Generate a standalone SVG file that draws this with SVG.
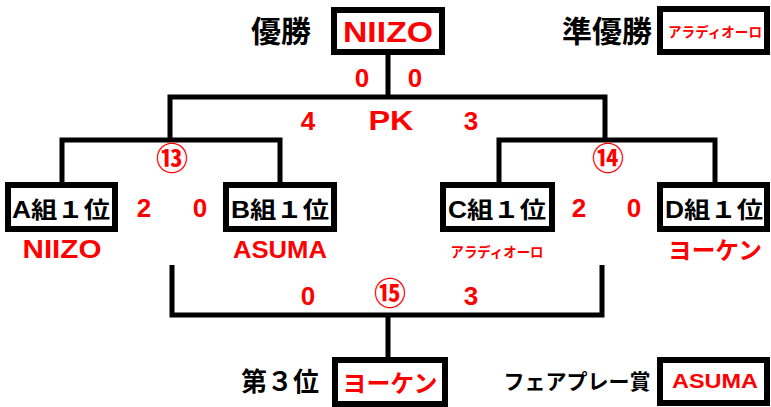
<svg xmlns="http://www.w3.org/2000/svg" width="771" height="407" viewBox="0 0 771 407">
<style>
.box{fill:#fff;stroke:#000;stroke-width:6}
.ln{fill:none;stroke:#000;stroke-width:5;stroke-linejoin:miter;stroke-linecap:butt}
text{font-family:"Liberation Sans","Noto Sans CJK JP",sans-serif;font-weight:bold;text-anchor:middle}
.k{fill:#000}
.r{fill:#f00}
.c{font-size:32px}
</style>
<rect width="771" height="407" fill="#fff"/>
<g id="connectors">
<path class="ln" d="M388,55 V97"/>
<path class="ln" d="M170,140 V97 H605 V140"/>
<path class="ln" d="M62,182 V140 H280 V182"/>
<path class="ln" d="M499,182 V140 H715 V182"/>
<path class="ln" d="M172,265 V315 H602 V265"/>
<path class="ln" d="M388,315 V357"/>
</g>
<g id="winner">
<text class="k" x="281" y="42" font-size="30">優勝</text>
<rect class="box" x="334" y="10" width="108" height="42"/>
<text class="r" x="388" y="42" font-size="30" textLength="90" lengthAdjust="spacingAndGlyphs">NIIZO</text>
</g>
<g id="runnerup">
<text class="k" x="607" y="42" font-size="30">準優勝</text>
<rect class="box" x="660" y="9" width="107" height="43"/>
<text class="r" x="715" y="37" font-size="14" textLength="94" lengthAdjust="spacingAndGlyphs">アラディオーロ</text>
</g>
<g id="final-scores">
<text class="r" x="362" y="87" font-size="26">0</text>
<text class="r" x="415" y="87" font-size="26">0</text>
<text class="r" x="308" y="130" font-size="26">4</text>
<text class="r" x="391" y="130" font-size="27" textLength="45" lengthAdjust="spacingAndGlyphs">PK</text>
<text class="r" x="471" y="130" font-size="26">3</text>
</g>
<g id="match13">
<text class="r c" x="172" y="170">⑬</text>
<text class="r" x="144" y="217" font-size="26">2</text>
<text class="r" x="200" y="217" font-size="26">0</text>
</g>
<g id="match14">
<text class="r c" x="608" y="170">⑭</text>
<text class="r" x="579" y="217" font-size="26">2</text>
<text class="r" x="634" y="217" font-size="26">0</text>
</g>
<g id="groupA">
<rect class="box" x="8" y="185" width="107" height="44"/>
<text class="k" x="61" y="218" font-size="23" textLength="98" lengthAdjust="spacingAndGlyphs">A組１位</text>
<text class="r" x="62" y="258" font-size="25" textLength="79" lengthAdjust="spacingAndGlyphs">NIIZO</text>
</g>
<g id="groupB">
<rect class="box" x="226" y="185" width="108" height="44"/>
<text class="k" x="280" y="218" font-size="23" textLength="98" lengthAdjust="spacingAndGlyphs">B組１位</text>
<text class="r" x="280" y="258" font-size="23" textLength="94" lengthAdjust="spacingAndGlyphs">ASUMA</text>
</g>
<g id="groupC">
<rect class="box" x="443" y="185" width="109" height="44"/>
<text class="k" x="497" y="218" font-size="23" textLength="98" lengthAdjust="spacingAndGlyphs">C組１位</text>
<text class="r" x="497" y="257" font-size="14" textLength="93" lengthAdjust="spacingAndGlyphs">アラディオーロ</text>
</g>
<g id="groupD">
<rect class="box" x="660" y="185" width="107" height="44"/>
<text class="k" x="714" y="218" font-size="23" textLength="98" lengthAdjust="spacingAndGlyphs">D組１位</text>
<text class="r" x="715" y="259" font-size="24" textLength="94" lengthAdjust="spacingAndGlyphs">ヨーケン</text>
</g>
<g id="match15">
<text class="r" x="308" y="305" font-size="26">0</text>
<text class="r c" x="390" y="305">⑮</text>
<text class="r" x="471" y="305" font-size="26">3</text>
</g>
<g id="third">
<text class="k" x="280" y="391" font-size="26">第３位</text>
<rect class="box" x="335" y="360" width="110" height="44"/>
<text class="r" x="390" y="392" font-size="24" textLength="95" lengthAdjust="spacingAndGlyphs">ヨーケン</text>
</g>
<g id="fairplay">
<text class="k" x="577" y="389" font-size="21">フェアプレー賞</text>
<rect class="box" x="660" y="360" width="107" height="43"/>
<text class="r" x="715" y="388" font-size="21" textLength="86" lengthAdjust="spacingAndGlyphs">ASUMA</text>
</g>
</svg>
